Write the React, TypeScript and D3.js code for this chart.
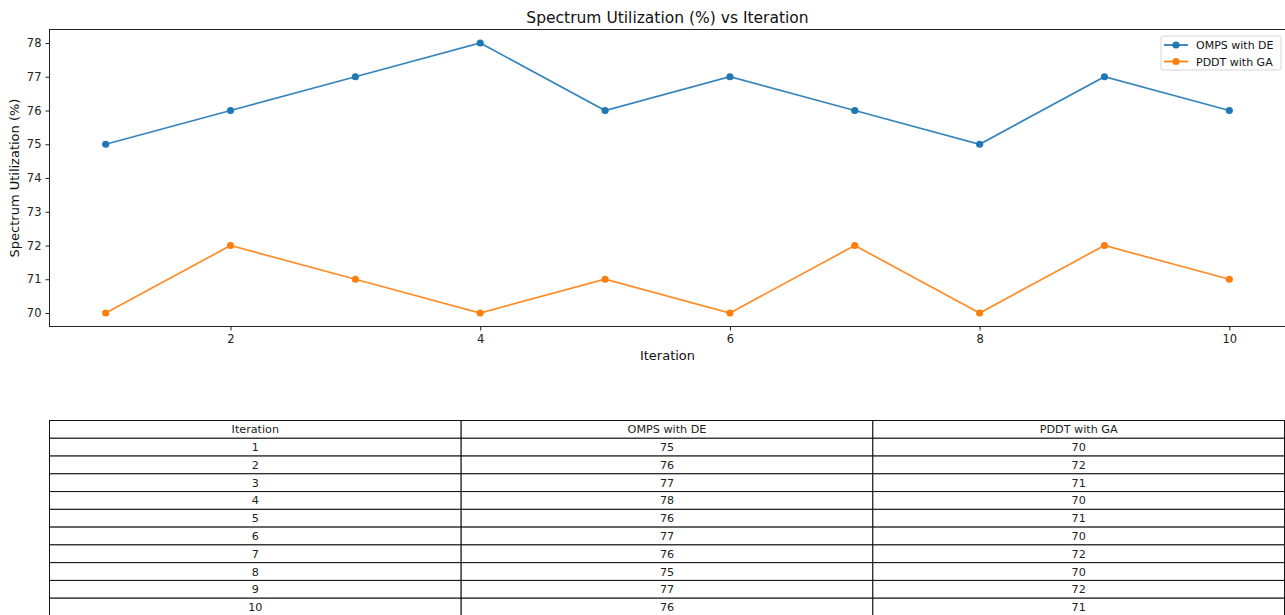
import { useEffect, useRef } from 'react'
import * as d3 from 'd3'

const iterations = [1, 2, 3, 4, 5, 6, 7, 8, 9, 10]
const ompsDE = [75, 76, 77, 78, 76, 77, 76, 75, 77, 76]
const pddtGA = [70, 72, 71, 70, 71, 70, 72, 70, 72, 71]
const xTicks = [2, 4, 6, 8, 10]
const yTicks = [70, 71, 72, 73, 74, 75, 76, 77, 78]
const tableHeader = ['Iteration', 'OMPS with DE', 'PDDT with GA']

const series = [
  { name: 'OMPS with DE', values: ompsDE, color: '#1f77b4' },
  { name: 'PDDT with GA', values: pddtGA, color: '#ff7f0e' },
]

const W = 1285
const H = 615
const FONT = 'DejaVu Sans, sans-serif'

export default function App() {
  const ref = useRef<SVGSVGElement | null>(null)

  useEffect(() => {
    if (!ref.current) {return}
    const svg = d3.select(ref.current)
    svg.selectAll('*').remove()

    const plot = { left: 49.5, right: 1285.5, top: 29.5, bottom: 326.5 }

    const x = d3.scaleLinear().domain([0.55, 10.45]).range([plot.left, plot.right])
    const y = d3.scaleLinear().domain([69.6, 78.4]).range([plot.bottom, plot.top])

    svg.append('rect').attr('width', W).attr('height', H).attr('fill', '#fff')

    // axes
    const xAxis = svg.append('g')
      .attr('transform', `translate(0,${plot.bottom})`)
      .call(d3.axisBottom(x).tickValues(xTicks).tickSize(4).tickPadding(4).tickFormat(d3.format('d')))
    const yAxis = svg.append('g')
      .attr('transform', `translate(${plot.left},0)`)
      .call(d3.axisLeft(y).tickValues(yTicks).tickSize(4).tickPadding(4).tickFormat(d3.format('d')))
    for (const ax of [xAxis, yAxis]) {
      ax.select('.domain').remove()
      ax.selectAll('text').attr('font-family', FONT).attr('font-size', 11.5).attr('fill', '#222')
      ax.selectAll('line').attr('stroke', '#222')
    }

    // frame
    svg.append('rect')
      .attr('x', plot.left).attr('y', plot.top)
      .attr('width', plot.right - plot.left).attr('height', plot.bottom - plot.top)
      .attr('fill', 'none').attr('stroke', '#222').attr('stroke-width', 1)

    const line = d3.line<number>().x((_, i) => x(iterations[i])).y((d) => y(d))

    series.forEach((s) => {
      svg.append('path')
        .datum(s.values)
        .attr('d', line)
        .attr('fill', 'none')
        .attr('stroke', s.color)
        .attr('stroke-width', 1.7)
        .attr('opacity', 0.9)
      svg.append('g').selectAll('circle')
        .data(s.values)
        .join('circle')
        .attr('cx', (_, i) => x(iterations[i]))
        .attr('cy', (d) => y(d))
        .attr('r', 3.6)
        .attr('fill', s.color)
    })

    // title & labels
    svg.append('text')
      .attr('x', (plot.left + plot.right) / 2).attr('y', 23)
      .attr('text-anchor', 'middle').attr('font-family', FONT).attr('font-size', 15.5)
      .attr('fill', '#111')
      .text('Spectrum Utilization (%) vs Iteration')
    svg.append('text')
      .attr('x', (plot.left + plot.right) / 2).attr('y', 360)
      .attr('text-anchor', 'middle').attr('font-family', FONT).attr('font-size', 13)
      .attr('fill', '#111')
      .text('Iteration')
    svg.append('text')
      .attr('transform', `translate(19,${(plot.top + plot.bottom) / 2}) rotate(-90)`)
      .attr('text-anchor', 'middle').attr('font-family', FONT).attr('font-size', 13)
      .attr('fill', '#111')
      .text('Spectrum Utilization (%)')

    // legend
    const lg = svg.append('g').attr('transform', 'translate(1161,36)')
    lg.append('rect')
      .attr('width', 120).attr('height', 34).attr('rx', 2)
      .attr('fill', '#fff').attr('fill-opacity', 0.8)
      .attr('stroke', '#d6d6d6')
    series.forEach((s, i) => {
      const gy = 9 + i * 16.5
      lg.append('line').attr('x1', 3).attr('x2', 27).attr('y1', gy).attr('y2', gy)
        .attr('stroke', s.color).attr('stroke-width', 1.7)
      lg.append('circle').attr('cx', 15).attr('cy', gy).attr('r', 3.6).attr('fill', s.color)
      lg.append('text').attr('x', 35).attr('y', gy + 4)
        .attr('font-family', FONT).attr('font-size', 11).attr('fill', '#111')
        .text(s.name)
    })

    // table
    const rows = iterations.map((it, i) => [String(it), String(ompsDE[i]), String(pddtGA[i])])
    const allRows = [tableHeader, ...rows]
    const colX = d3.scaleBand<number>().domain([0, 1, 2]).range([49.5, 1284.5])
    const rowY = d3.scaleBand<number>().domain(d3.range(allRows.length)).range([420.5, 420.5 + 17.77 * allRows.length])
    const tg = svg.append('g')
    allRows.forEach((r, ri) => {
      r.forEach((cell, ci) => {
        tg.append('rect')
          .attr('x', colX(ci)!).attr('y', rowY(ri)!)
          .attr('width', colX.bandwidth()).attr('height', rowY.bandwidth())
          .attr('fill', '#fff').attr('stroke', '#111').attr('stroke-width', 1)
        tg.append('text')
          .attr('x', colX(ci)! + colX.bandwidth() / 2)
          .attr('y', rowY(ri)! + rowY.bandwidth() / 2 + 4)
          .attr('text-anchor', 'middle')
          .attr('font-family', FONT).attr('font-size', 11.2).attr('fill', '#222')
          .text(cell)
      })
    })
  }, [])

  return (
    <svg
      ref={ref}
      width={W}
      height={H}
      style={{ position: 'absolute', left: 0, top: 0, display: 'block' }}
    />
  )
}
